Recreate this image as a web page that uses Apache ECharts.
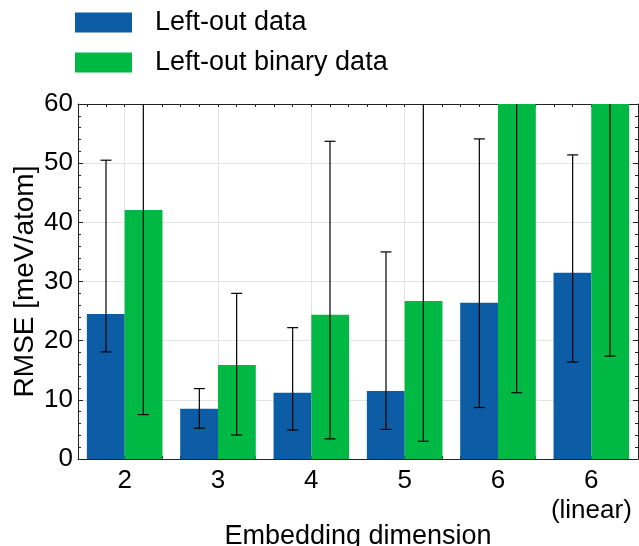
<!DOCTYPE html>
<html>
<head>
<meta charset="utf-8">
<script src="https://cdn.jsdelivr.net/npm/echarts@6/dist/echarts.min.js"></script>
<style>
  html, body { margin: 0; padding: 0; background: #fff; }
  #chart { width: 639px; height: 546px; }
</style>
</head>
<body>
<div id="chart"></div>
<script>
// categories (embedding dimension)
var dims = ['2', '3', '4', '5', '6', '6\n(linear)'];

// Left-out data: RMSE and error bar bounds
var leftOut = [24.5, 8.5, 11.2, 11.5, 26.4, 31.5];
var leftOutLow = [18.1, 5.2, 4.9, 5.0, 8.7, 16.4];
var leftOutHigh = [50.5, 11.9, 22.2, 35.0, 54.1, 51.4];

// Left-out binary data (last two bars and some bars go off the top)
var binary = [42.1, 15.9, 24.4, 26.7, 75, 85];
var binaryLow = [7.5, 4.05, 3.4, 3.0, 11.2, 17.4];
var binaryHigh = [80, 28.0, 53.7, 70, 140, 150];

var BLUE = '#0C5DA5';
var GREEN = '#00B945';
var FONT = 'Liberation Sans';

// minor tick positions on the x axis (every 0.2 of a category)
var minorX = [];
for (var k = -2; k <= 27; k++) {
  minorX.push(k / 5);
}

function errRows(low, high) {
  var rows = [];
  for (var i = 0; i < dims.length; i++) rows.push([i, low[i], high[i]]);
  return rows;
}

function errBars(shift) {
  return function (params, api) {
    var i = api.value(0);
    var band = api.size([1, 0])[0];
    var lo = api.coord([i, api.value(1)]);
    var hi = api.coord([i, api.value(2)]);
    var x = lo[0] + shift * band;
    var cap = 5.5;
    var st = { stroke: '#000', lineWidth: 1.2 };
    return {
      type: 'group',
      children: [
        { type: 'line', shape: { x1: x, y1: lo[1], x2: x, y2: hi[1] }, style: st },
        { type: 'line', shape: { x1: x - cap, y1: lo[1], x2: x + cap, y2: lo[1] }, style: st },
        { type: 'line', shape: { x1: x - cap, y1: hi[1], x2: x + cap, y2: hi[1] }, style: st }
      ]
    };
  };
}

var axisLine = { show: true, onZero: false, lineStyle: { color: '#222', width: 1 } };
var tickStyle = { color: '#222' };

var chart = echarts.init(document.getElementById('chart'));
chart.setOption({
  animation: false,
  textStyle: { fontFamily: FONT },
  legend: {
    orient: 'vertical',
    left: 75,
    top: 9,
    padding: 0,
    itemWidth: 57,
    itemHeight: 20,
    itemGap: 13,
    icon: 'rect',
    textStyle: { fontSize: 27, color: '#000', fontFamily: FONT, padding: [0, 0, 0, 18] },
    data: ['Left-out data', 'Left-out binary data']
  },
  grid: { left: 78, right: 1, top: 104, bottom: 87, outerBoundsMode: 'none', containLabel: false },
  xAxis: [
    {
      type: 'category',
      data: dims,
      name: 'Embedding dimension',
      nameLocation: 'middle',
      nameGap: 64,
      nameMoveOverlap: false,
      nameTextStyle: { fontSize: 27, color: '#000', fontFamily: FONT },
      axisLine: axisLine,
      axisTick: { inside: true, alignWithLabel: true, length: 5, lineStyle: tickStyle },
      axisLabel: { interval: 0, fontSize: 26, color: '#000', margin: 7, lineHeight: 30, fontFamily: FONT },
      splitLine: { show: true, alignWithLabel: true, lineStyle: { color: '#e3e3e3', width: 1 } }
    },
    {
      type: 'category',
      data: dims,
      position: 'top',
      axisLine: axisLine,
      axisTick: { inside: true, alignWithLabel: true, interval: 0, length: 5, lineStyle: tickStyle },
      axisLabel: { show: false }
    },
    {
      type: 'value',
      min: -0.5,
      max: 5.5,
      position: 'bottom',
      axisLine: { show: false, onZero: false },
      axisTick: { show: true, inside: true, length: 3, customValues: minorX, lineStyle: tickStyle },
      axisLabel: { show: false },
      splitLine: { show: false }
    },
    {
      type: 'value',
      min: -0.5,
      max: 5.5,
      position: 'top',
      axisLine: { show: false, onZero: false },
      axisTick: { show: true, inside: true, length: 3, customValues: minorX, lineStyle: tickStyle },
      axisLabel: { show: false },
      splitLine: { show: false }
    }
  ],
  yAxis: [
    {
      type: 'value',
      min: 0,
      max: 60,
      interval: 10,
      name: 'RMSE [meV/atom]',
      nameLocation: 'middle',
      nameGap: 39,
      nameMoveOverlap: false,
      nameTextStyle: { fontSize: 28, color: '#000', fontFamily: FONT },
      axisLine: axisLine,
      axisTick: { inside: true, length: 5, lineStyle: tickStyle },
      minorTick: { show: true, splitNumber: 5, length: 3, lineStyle: tickStyle },
      axisLabel: { fontSize: 26, color: '#000', margin: 5, fontFamily: FONT },
      splitLine: { show: true, lineStyle: { color: '#e3e3e3', width: 1 } }
    },
    {
      type: 'value',
      min: 0,
      max: 60,
      interval: 10,
      position: 'right',
      axisLine: axisLine,
      axisTick: { inside: true, length: 5, lineStyle: tickStyle },
      minorTick: { show: true, splitNumber: 5, length: 3, lineStyle: tickStyle },
      axisLabel: { show: false },
      splitLine: { show: false }
    }
  ],
  series: [
    {
      name: 'Left-out data',
      type: 'bar',
      data: leftOut,
      itemStyle: { color: BLUE },
      barGap: '0%',
      barCategoryGap: '19%',
      clip: true
    },
    {
      name: 'Left-out binary data',
      type: 'bar',
      data: binary,
      itemStyle: { color: GREEN },
      clip: true
    },
    {
      type: 'custom',
      renderItem: errBars(-0.2),
      data: errRows(leftOutLow, leftOutHigh),
      encode: { x: 0, y: [1, 2] },
      clip: true,
      z: 5
    },
    {
      type: 'custom',
      renderItem: errBars(0.2),
      data: errRows(binaryLow, binaryHigh),
      encode: { x: 0, y: [1, 2] },
      clip: true,
      z: 5
    }
  ]
});
</script>
</body>
</html>
